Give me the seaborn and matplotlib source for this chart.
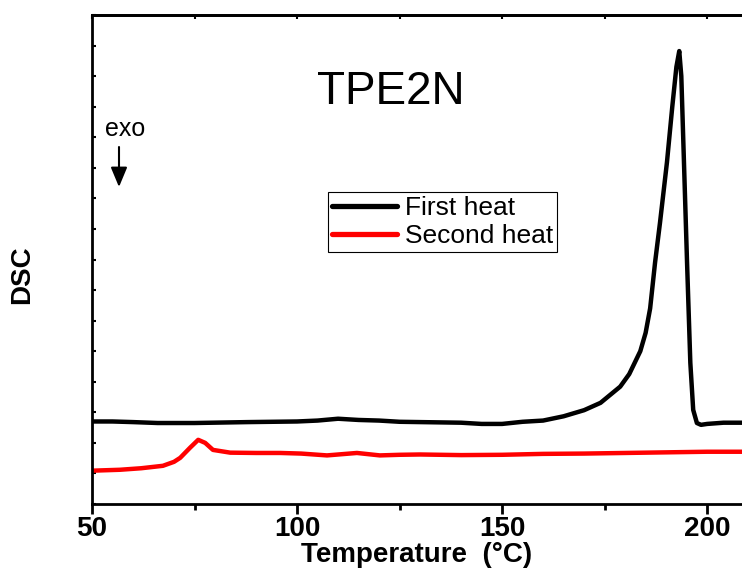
import matplotlib
matplotlib.use("Agg")
import matplotlib.pyplot as plt
import seaborn as sns
import pandas as pd
from matplotlib.ticker import MultipleLocator, NullFormatter

# ---- data ----
first_T = [50, 55, 60, 66, 75, 88, 100, 105, 110, 115, 120, 125, 130, 135, 140, 145, 150,
           155, 160, 165, 170, 174, 178.8, 181, 183.7, 185, 186.1, 187.3, 188.5, 190.2, 191.5,
           192.5, 193.2, 193.7, 194.1, 195.1, 195.9, 196.6, 197.5, 198.5, 200, 204, 208.5]
first_dsc = [2.70, 2.70, 2.68, 2.65, 2.65, 2.68, 2.70, 2.73, 2.79, 2.75, 2.73, 2.69, 2.68,
             2.67, 2.66, 2.62, 2.62, 2.69, 2.73, 2.87, 3.07, 3.31, 3.84, 4.25, 5.0, 5.6,
             6.4, 7.9, 9.2, 11.18, 13.0, 14.3, 14.82, 14.0, 12.26, 7.9, 4.62, 3.08, 2.65,
             2.59, 2.62, 2.66, 2.66]
second_T = [50, 56.8, 62, 67.3, 70, 71.5, 73.9, 75.9, 77.6, 79.5, 83.7, 90, 95.9, 101, 107.3,
            114.6, 120.2, 125, 130, 140, 150, 160, 170, 180, 190, 200, 208.5]
second_dsc = [1.09, 1.12, 1.17, 1.25, 1.38, 1.51, 1.84, 2.10, 2.0, 1.77, 1.68, 1.67, 1.67,
              1.65, 1.59, 1.67, 1.59, 1.61, 1.62, 1.60, 1.61, 1.64, 1.65, 1.67, 1.69, 1.71, 1.71]
series_labels = ["First heat", "Second heat"]
series_colors = ["#000000", "#ff0000"]
x_ticks = [50, 100, 150, 200]

df = pd.concat([
    pd.DataFrame({"T": first_T, "DSC": first_dsc, "run": series_labels[0]}),
    pd.DataFrame({"T": second_T, "DSC": second_dsc, "run": series_labels[1]}),
])

sns.set_style("ticks")
plt.rcParams["font.family"] = ["Liberation Sans", "DejaVu Sans"]
plt.rcParams["text.color"] = "black"
plt.rcParams["axes.labelcolor"] = "black"
plt.rcParams["xtick.color"] = "black"
plt.rcParams["ytick.color"] = "black"

W, H = 742, 575
fig = plt.figure(figsize=(W / 100, H / 100), dpi=100)
ax = fig.add_axes([92 / W, 1 - 504 / H, (W - 92) / W, (504 - 15) / H])

sns.lineplot(data=df, x="T", y="DSC", hue="run", palette=series_colors,
             estimator=None, sort=False, linewidth=3.2, ax=ax, legend=True)

ax.set_xlim(50, 208.5)
ax.set_ylim(0, 16)

for s in ["left", "bottom", "top"]:
    ax.spines[s].set_linewidth(2)
    ax.spines[s].set_color("black")
ax.spines["right"].set_visible(False)

ax.xaxis.set_major_locator(MultipleLocator(50))
ax.xaxis.set_minor_locator(MultipleLocator(25))
ax.set_xticks(x_ticks)
ax.tick_params(axis="x", which="major", direction="out", length=7, width=2, pad=2,
               labelsize=20, bottom=True, top=False, labelcolor="black")
ax.tick_params(axis="x", which="minor", direction="out", length=4, width=2,
               bottom=True, top=False)
for lab in ax.get_xticklabels():
    lab.set_fontweight("bold")

ax.yaxis.set_major_locator(MultipleLocator(1))
ax.yaxis.set_major_formatter(NullFormatter())
ax.tick_params(axis="y", which="major", direction="in", length=3, width=1.5,
               left=True, right=False)

sec = ax.secondary_xaxis("top")
sec.xaxis.set_major_locator(MultipleLocator(25))
sec.xaxis.set_major_formatter(NullFormatter())
sec.tick_params(direction="in", length=3, width=1.5, color="black")
sec.spines["top"].set_linewidth(2)
sec.spines["top"].set_color("black")

ax.set_xlabel("Temperature  (\u00b0C)", fontsize=20, fontweight="bold", labelpad=0,
              color="black")
ax.set_ylabel("DSC", fontsize=20, fontweight="bold", color="black")
ax.yaxis.set_label_coords(-0.088, 0.468)

leg = ax.legend(loc="upper left", bbox_to_anchor=(328 / W, 1 - 192 / H),
                bbox_transform=fig.transFigure, borderaxespad=0, fontsize=19,
                frameon=True, fancybox=False, edgecolor="black", framealpha=1,
                handlelength=2.45, handletextpad=0.3, borderpad=0.15, labelspacing=0.15,
                title=None)
leg.get_frame().set_linewidth(0.8)
for line in leg.get_lines():
    line.set_linewidth(3.8)
for t in leg.get_texts():
    t.set_color("black")

fig.text(391 / W, 1 - 92 / H, "TPE2N", fontsize=33, ha="center", va="center",
         color="black")
fig.text(125 / W, 1 - 129 / H, "exo", fontsize=18, ha="center", va="center",
         color="black")
ax.annotate("", xy=(119 / W, 1 - 187 / H), xytext=(119 / W, 1 - 147 / H),
            xycoords="figure fraction", textcoords="figure fraction",
            arrowprops=dict(arrowstyle="-|>,head_width=0.25,head_length=0.6",
                            mutation_scale=20, lw=1.5, color="black",
                            shrinkA=0, shrinkB=0))

fig.savefig("out.png", dpi=100)
